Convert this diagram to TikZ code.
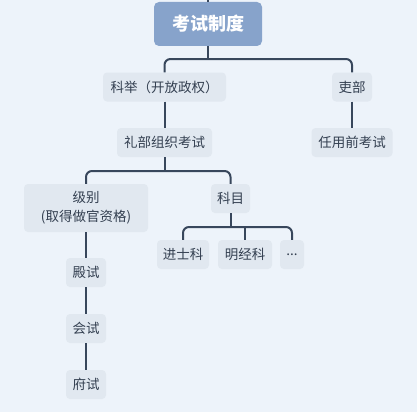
\documentclass[tikz,border=0pt]{standalone}
\usepackage{fontspec}
\setmainfont{Noto Sans CJK SC}
\definecolor{bg}{HTML}{EDF3FA}
\definecolor{nodefill}{HTML}{E1E8F0}
\definecolor{rootfill}{HTML}{87A3CB}
\definecolor{linec}{HTML}{38475C}
\definecolor{txt}{HTML}{333F50}
\tikzset{
  box/.style={fill=nodefill, rounded corners=4pt, text=txt, font=\fontsize{13.5}{19}\selectfont,
    minimum height=29pt, inner xsep=5pt, inner ysep=0pt, align=center},
  rootbox/.style={fill=rootfill, rounded corners=5pt, text=white, font=\fontsize{18}{20}\selectfont\bfseries,
    minimum width=108pt, minimum height=44pt, inner sep=0pt},
  conn/.style={draw=linec, line width=2pt, rounded corners=6pt}
}
\begin{document}
\begin{tikzpicture}[x=1pt,y=-1pt]
\fill[bg] (0,0) rectangle (417,412);
\useasboundingbox (0,0) rectangle (417,412);
\coordinate (top) at (208,0);
\node[rootbox] (root) at (208,24) {考试制度};
\node[box, minimum width=123pt] (keju) at (164.5,87) {科举（开放政权）};
\node[box, minimum width=40pt] (libu) at (352,87) {吏部};
\node[box, minimum width=95pt] (lbzz) at (164.5,142.5) {礼部组织考试};
\node[box, minimum width=81pt] (rygq) at (352,142.5) {任用前考试};
\node[box, minimum width=124pt, minimum height=48pt] (jibie) at (86,208) {级别\\(取得做官资格)};
\node[box, minimum width=39pt] (kemu) at (230.5,198.5) {科目};
\node[box, minimum width=52pt] (jinshi) at (183,254.5) {进士科};
\node[box, minimum width=54pt] (mingjing) at (245,254.5) {明经科};
\node[box, minimum width=24pt] (dots) at (292,254.5) {...};
\node[box, minimum width=40pt] (dianshi) at (86,272.5) {殿试};
\node[box, minimum width=40pt] (huishi) at (86,328.5) {会试};
\node[box, minimum width=40pt] (fushi) at (86,384.5) {府试};

\draw[conn] (top) -- (root.north);
\draw[conn] (root.south) -- (root.south |- 0,59);
\draw[conn] (keju.north) |- (libu.north |- 0,59) -- (libu.north);
\draw[conn] (keju.south) -- (lbzz.north);
\draw[conn] (libu.south) -- (rygq.north);
\draw[conn] (lbzz.south) -- (lbzz.south |- 0,171);
\draw[conn] (jibie.north) |- (kemu.north |- 0,171) -- (kemu.north);
\draw[conn] (kemu.south) -- (kemu.south |- 0,227);
\draw[conn] (jinshi.north) |- (dots.north |- 0,227) -- (dots.north);
\draw[conn] (mingjing.north) -- (mingjing.north |- 0,227);
\draw[conn] (jibie.south) -- (dianshi.north);
\draw[conn] (dianshi.south) -- (huishi.north);
\draw[conn] (huishi.south) -- (fushi.north);
\end{tikzpicture}
\end{document}
